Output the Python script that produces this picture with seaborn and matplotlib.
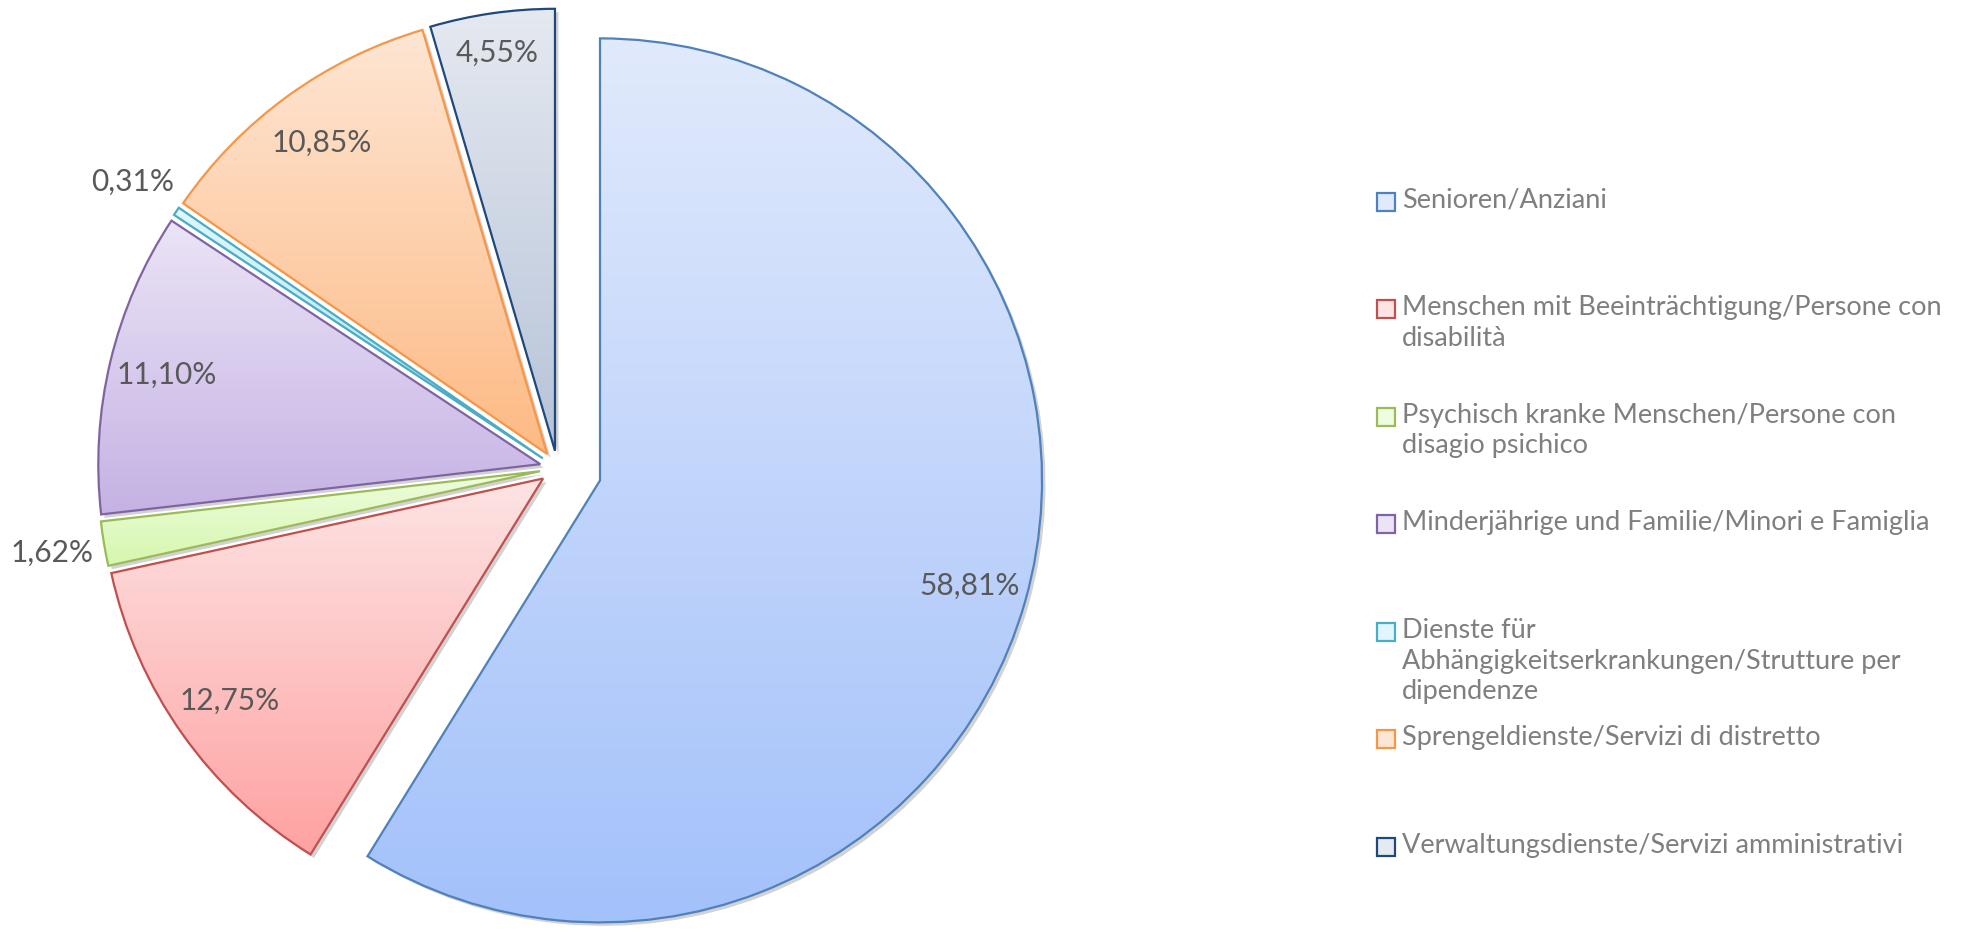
import textwrap
import numpy as np
import matplotlib
matplotlib.use('Agg')
import matplotlib.pyplot as plt
import matplotlib.transforms as mtransforms
from matplotlib.colors import LinearSegmentedColormap
from matplotlib.patches import Wedge, Rectangle
import seaborn as sns

# data
categories = [
    'Senioren/Anziani',
    'Menschen mit Beeinträchtigung/Persone con disabilità',
    'Psychisch kranke Menschen/Persone con disagio psichico',
    'Minderjährige und Familie/Minori e Famiglia',
    'Dienste für Abhängigkeitserkrankungen/Strutture per dipendenze',
    'Sprengeldienste/Servizi di distretto',
    'Verwaltungsdienste/Servizi amministrativi',
]
shares = [58.81, 12.75, 1.62, 11.10, 0.31, 10.85, 4.55]

edge_colors = ['#4f81bd', '#c0504d', '#9bbb59', '#8064a2', '#4bacc6', '#f79646', '#1f497d']
top_colors = ['#e1eafc', '#fde4e4', '#effcdf', '#ebe4f6', '#e0f6fc', '#fee6d4', '#e5e9f0']
bottom_colors = ['#a3c1fa', '#ffa2a2', '#d6f7ae', '#c5b2e4', '#a3e4f6', '#fdba84', '#b6c3d8']

sns.set_theme(style='white')
plt.rcParams['font.family'] = ['Lato', 'DejaVu Sans']

W, H, DPI = 1970, 931, 100
fig = plt.figure(figsize=(W / DPI, H / DPI), dpi=DPI)
fig.patch.set_facecolor('white')

# pie placed by pixel centre / radius
cx, cy, R = 557.5, 468.3, 442.0
ax = fig.add_axes([0, 0, 1, 1])
ax.axis('off')

explode = [0.10 if s == max(shares) else 0.04 for s in shares]
wedges, _ = ax.pie(shares, colors=top_colors, startangle=90, counterclock=False,
                   explode=explode, radius=1,
                   wedgeprops=dict(linewidth=1.6))

shadow_tr = mtransforms.ScaledTranslation(2.5 / 72, -2.5 / 72, fig.dpi_scale_trans)
grad = np.linspace(0, 1, 256).reshape(-1, 1)

for i, w in enumerate(wedges):
    w.set_edgecolor(edge_colors[i])
    w.set_facecolor('none')
    w.set_zorder(3)
    # soft shadow
    sh = Wedge(w.center, w.r, w.theta1, w.theta2, facecolor='#7f7f7f',
               edgecolor='none', alpha=0.35, zorder=1,
               transform=ax.transData + shadow_tr)
    ax.add_patch(sh)
    # vertical gradient fill
    ext = w.get_path().get_extents()
    cmap = LinearSegmentedColormap.from_list(f'g{i}', [bottom_colors[i], top_colors[i]])
    im = ax.imshow(grad, cmap=cmap, origin='lower', aspect='auto',
                   extent=[ext.x0, ext.x1, ext.y0, ext.y1], zorder=2,
                   interpolation='bilinear')
    im.set_clip_path(w)

    # percentage label: outside for tiny slices, further out for narrow ones
    mid = np.deg2rad((w.theta1 + w.theta2) / 2)
    if shares[i] < 2:
        dist = 1.12
    elif shares[i] < 5:
        dist = 0.91
    else:
        dist = 0.87
    tx = w.center[0] + dist * w.r * np.cos(mid)
    ty = w.center[1] + dist * w.r * np.sin(mid)
    ax.text(tx, ty, f'{shares[i]:.2f}%'.replace('.', ','), ha='center', va='center',
            fontsize=21.5, color='#595959', zorder=5)

ax.set_aspect('auto')
ax.set_xlim(-cx / R, (W - cx) / R)
ax.set_ylim(-(H - cy) / R, cy / R)

# legend, drawn entry by entry
leg_x, leg_y0, leg_step = 1386, 201.5, 107.5
box = 18
for i, name in enumerate(categories):
    yc = leg_y0 + i * leg_step
    fig.patches.append(Rectangle(((leg_x - box / 2) / W, 1 - (yc + box / 2) / H),
                                 box / W, box / H, transform=fig.transFigure,
                                 facecolor=top_colors[i], edgecolor=edge_colors[i],
                                 linewidth=1.6))
    fig.text((leg_x + 16) / W, 1 - (yc - 14) / H, '\n'.join(textwrap.wrap(name, 43)),
             ha='left', va='top', fontsize=19.5, color='#7f7f7f', linespacing=1.3)

fig.savefig('out.png', dpi=DPI)
